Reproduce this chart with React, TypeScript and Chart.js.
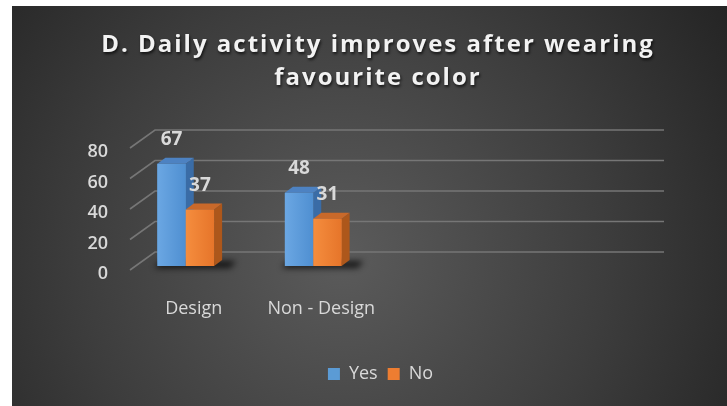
import React, { useEffect, useRef } from "react";
import { Chart, registerables } from "chart.js";

Chart.register(...registerables);

const categories = ["Design", "Non - Design", "", ""];
const yesValues = [67, 48, null, null];
const noValues = [37, 31, null, null];
const seriesNames = ["Yes", "No"];
const titleLines = ["D. Daily activity improves after wearing", "favourite color"];
const yMin = 0;
const yMax = 80;
const yStep = 20;

const FONT = "'Open Sans', 'DejaVu Sans', sans-serif";
const TEXT = "#d9d9d9";

const palette = [
  { front: ["#6ba7e3", "#4f8fd1"], side: "#3a6ca6", top: "#4d82c2", solid: "#5b9bd5" },
  { front: ["#f58d3e", "#e6752a"], side: "#ad571b", top: "#c9692a", solid: "#ed7d31" },
];

const DX = 8;
const DY = 6;

const bgPlugin = {
  id: "bg",
  beforeDraw(chart: any) {
    const { ctx, width, height } = chart;
    ctx.save();
    const g = ctx.createRadialGradient(330, 250, 10, 330, 250, 470);
    g.addColorStop(0, "#5a5a5a");
    g.addColorStop(0.55, "#3d3d3d");
    g.addColorStop(1, "#232323");
    ctx.fillStyle = g;
    ctx.fillRect(0, 0, width, height);
    // title
    ctx.font = `bold 24px ${FONT}`;
    (ctx as any).letterSpacing = "2px";
    ctx.textAlign = "center";
    ctx.textBaseline = "alphabetic";
    ctx.shadowColor = "rgba(0,0,0,0.7)";
    ctx.shadowOffsetX = 1;
    ctx.shadowOffsetY = 2;
    ctx.shadowBlur = 3;
    ctx.fillStyle = "#f2f2f2";
    ctx.fillText(titleLines[0], 366, 46);
    ctx.fillText(titleLines[1], 366, 79);
    ctx.restore();
  },
};

const gridPlugin = {
  id: "grid3d",
  beforeDatasetsDraw(chart: any) {
    const { ctx, chartArea } = chart;
    const ys = chart.scales.y;
    const fx = chartArea.left + 8;
    const bx = chartArea.left + 33;
    const rx = chartArea.right + 32;
    ctx.save();
    ctx.strokeStyle = "#767676";
    ctx.lineWidth = 1.6;
    ys.ticks.forEach((t: any) => {
      const y = ys.getPixelForValue(t.value);
      ctx.beginPath();
      ctx.moveTo(fx, y + 4);
      ctx.lineTo(bx, y - 14);
      ctx.lineTo(rx, y - 14);
      ctx.stroke();
    });
    ctx.restore();
  },
  afterDatasetsDraw(chart: any) {
    const { ctx } = chart;
    const m0 = chart.getDatasetMeta(0);
    const m1 = chart.getDatasetMeta(1);
    ctx.save();
    // shadows beneath bar groups
    ctx.filter = "blur(3px)";
    ctx.fillStyle = "rgba(0,0,0,0.75)";
    m0.data.forEach((b0: any, i: number) => {
      const b1 = m1.data[i];
      if (yesValues[i] == null) return;
      const l = b0.x - b0.width / 2 - 3;
      const r = b1.x + b1.width / 2 + DX + 14;
      const base = b0.base;
      ctx.beginPath();
      ctx.moveTo(l, base + 2);
      ctx.lineTo(r - 6, base + 2);
      ctx.lineTo(r, base - 5);
      ctx.lineTo(l + 6, base - 5);
      ctx.closePath();
      ctx.fill();
    });
    ctx.filter = "none";
    [0, 1].forEach((idx) => {
      const p = palette[idx];
      const meta = chart.getDatasetMeta(idx);
      meta.data.forEach((bar: any, i: number) => {
        const v = chart.data.datasets[idx].data[i];
        if (v == null) return;
        const l = bar.x - bar.width / 2;
        const r = bar.x + bar.width / 2;
        const t = bar.y;
        const b = bar.base;
        // side face
        ctx.fillStyle = p.side;
        ctx.beginPath();
        ctx.moveTo(r, t);
        ctx.lineTo(r + DX, t - DY);
        ctx.lineTo(r + DX, b - DY);
        ctx.lineTo(r, b);
        ctx.closePath();
        ctx.fill();
        // top face
        ctx.fillStyle = p.top;
        ctx.beginPath();
        ctx.moveTo(l, t);
        ctx.lineTo(r, t);
        ctx.lineTo(r + DX, t - DY);
        ctx.lineTo(l + DX, t - DY);
        ctx.closePath();
        ctx.fill();
        // front face
        const g = ctx.createLinearGradient(l, 0, r, 0);
        g.addColorStop(0, p.front[0]);
        g.addColorStop(1, p.front[1]);
        ctx.fillStyle = g;
        ctx.fillRect(l, t, r - l, b - t);
      });
    });
    ctx.restore();
  },
  afterDraw(chart: any) {
    const { ctx } = chart;
    ctx.save();
    ctx.font = `bold 19px ${FONT}`;
    ctx.fillStyle = TEXT;
    ctx.textAlign = "center";
    ctx.textBaseline = "middle";
    chart.data.datasets.forEach((ds: any, di: number) => {
      const meta = chart.getDatasetMeta(di);
      meta.data.forEach((bar: any, i: number) => {
        const v = ds.data[i];
        if (v == null) return;
        ctx.fillText(String(v), bar.x, bar.y - 24);
      });
    });
    ctx.restore();
  },
};

export default function App() {
  const ref = useRef<HTMLCanvasElement | null>(null);
  useEffect(() => {
    if (!ref.current) return;
    const chart = new Chart(ref.current, {
      type: "bar",
      data: {
        labels: categories,
        datasets: [
          {
            label: seriesNames[0],
            data: yesValues,
            backgroundColor: palette[0].solid,
            borderWidth: 0,
            categoryPercentage: 0.445,
            barPercentage: 1,
          },
          {
            label: seriesNames[1],
            data: noValues,
            backgroundColor: palette[1].solid,
            borderWidth: 0,
            categoryPercentage: 0.445,
            barPercentage: 1,
          },
        ],
      },
      options: {
        animation: false,
        responsive: false,
        devicePixelRatio: 1,
        layout: { padding: { top: 138, left: 22, right: 0, bottom: 13 } },
        plugins: {
          title: { display: false },
          tooltip: { enabled: false },
          legend: {
            display: true,
            position: "bottom",
            labels: {
              boxWidth: 12,
              boxHeight: 12,
              padding: 10,
              color: TEXT,
              font: { family: FONT, size: 18, weight: "500" },
            },
          },
        },
        scales: {
          x: {
            grid: { display: false, drawTicks: false },
            border: { display: false },
            ticks: {
              color: TEXT,
              font: { family: FONT, size: 18 },
              padding: 32,
              labelOffset: 8,
              maxRotation: 0,
              autoSkip: false,
            },
            afterFit: (s: any) => {
              s.height = 89;
            },
          },
          y: {
            min: yMin,
            max: yMax,
            grid: { display: false, drawTicks: false },
            border: { display: false },
            ticks: {
              stepSize: yStep,
              color: TEXT,
              font: { family: FONT, size: 18, weight: "600" },
              padding: 14,
              labelOffset: 8,
            },
            afterFit: (s: any) => {
              s.width = 88;
            },
          },
          yR: {
            position: "right",
            display: true,
            grid: { display: false, drawTicks: false },
            border: { display: false },
            ticks: { display: false },
            afterFit: (s: any) => {
              s.width = 95;
            },
          },
        },
      },
      plugins: [bgPlugin, gridPlugin],
    });
    return () => chart.destroy();
  }, []);
  return (
    <div style={{ position: "absolute", left: 12, top: 6, width: 715, height: 400 }}>
      <canvas ref={ref} width={715} height={400} style={{ display: "block" }} />
    </div>
  );
}
